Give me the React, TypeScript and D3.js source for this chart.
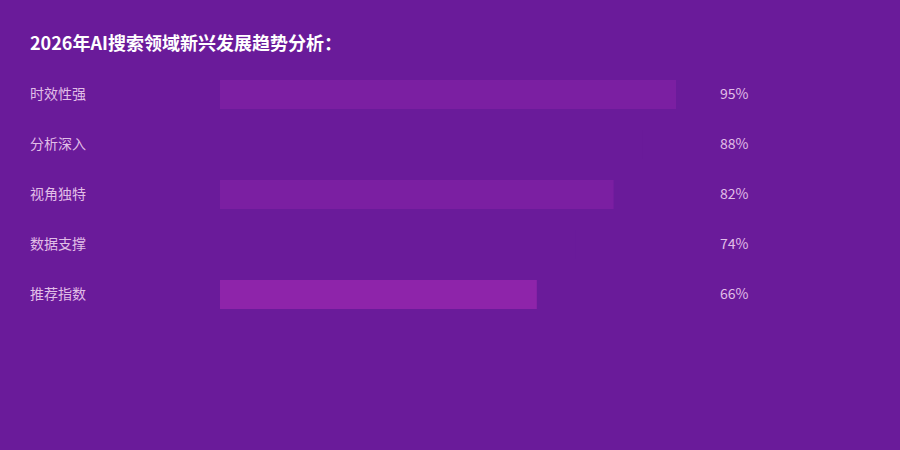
import React, { useEffect, useRef } from 'react';
import * as d3 from 'd3';

const title = '2026年AI搜索领域新兴发展趋势分析：';
const categories = ['时效性强', '分析深入', '视角独特', '数据支撑', '推荐指数'];
const values = [95, 88, 82, 74, 66];
const barColors = ['#7b1fa2', '#6a1b9a', '#7b1fa2', '#6a1b9a', '#8e24aa'];

const W = 900;
const H = 450;
const FONT = '"Noto Sans CJK SC", "Noto Sans", sans-serif';

const App: React.FC = () => {
  const ref = useRef<SVGSVGElement | null>(null);

  useEffect(() => {
    if (!ref.current) return;
    const svg = d3.select(ref.current);
    svg.selectAll('*').remove();

    svg.append('rect').attr('width', W).attr('height', H).attr('fill', '#6a1b9a');

    svg.append('text')
      .attr('x', 30)
      .attr('y', 50)
      .attr('fill', '#ffffff')
      .style('font-family', FONT)
      .style('font-size', '18px')
      .style('font-weight', 'bold')
      .text(title);

    const x = d3.scaleLinear().domain([0, 100]).range([220, 700]);
    const y = d3.scaleBand()
      .domain(categories)
      .range([80, 309])
      .paddingInner(0.42)
      .paddingOuter(0);

    const rows = svg.selectAll('g.row')
      .data(categories)
      .enter()
      .append('g')
      .attr('class', 'row');

    rows.append('rect')
      .attr('x', x(0))
      .attr('y', d => y(d) || 0)
      .attr('width', (_, i) => x(values[i]) - x(0))
      .attr('height', y.bandwidth())
      .attr('fill', (_, i) => barColors[i]);

    rows.append('text')
      .attr('x', 30)
      .attr('y', d => (y(d) || 0) + y.bandwidth() / 2)
      .attr('dy', '0.35em')
      .attr('fill', '#e1bee7')
      .style('font-family', FONT)
      .style('font-size', '14px')
      .text(d => d);

    rows.append('text')
      .attr('x', 720)
      .attr('y', d => (y(d) || 0) + y.bandwidth() / 2)
      .attr('dy', '0.35em')
      .attr('fill', '#e1bee7')
      .style('font-family', FONT)
      .style('font-size', '14px')
      .text((_, i) => `${values[i]}%`);
  }, []);

  return (
    <svg
      ref={ref}
      width={W}
      height={H}
      style={{ position: 'absolute', left: 0, top: 0, display: 'block' }}
    />
  );
};

export default App;
